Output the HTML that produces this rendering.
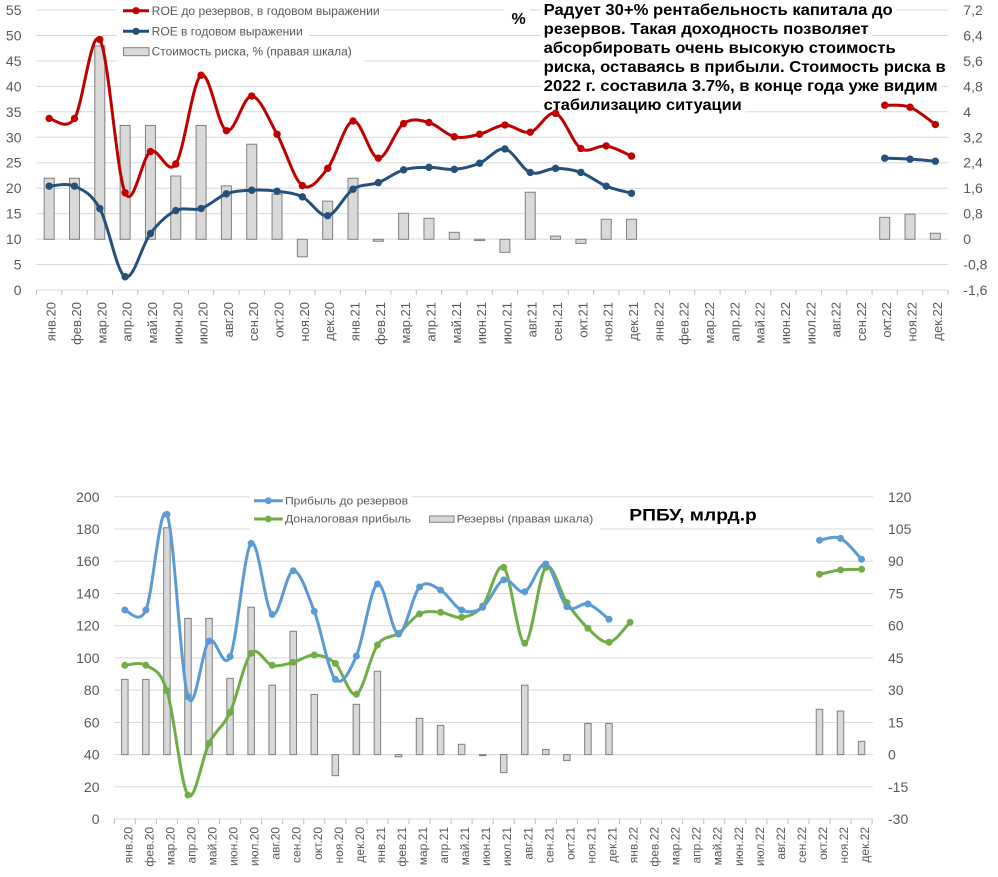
<!DOCTYPE html>
<html><head><meta charset="utf-8">
<style>
html,body{margin:0;padding:0;background:#fff;width:998px;height:877px;overflow:hidden}
svg{display:block;font-family:"Liberation Sans","DejaVu Sans",sans-serif}
.ax{font-size:14px;fill:#595959}
.xl{font-size:13px;fill:#595959}
.xb{font-size:12px;fill:#595959}
.lg{font-size:11.5px;fill:#595959}
.lb{font-size:11px;fill:#595959}
.an{font-size:15.5px;font-weight:bold;fill:#000}
</style></head><body>
<svg id="s" width="998" height="877" viewBox="0 0 998 877" xmlns="http://www.w3.org/2000/svg">
<rect x="0" y="0" width="998" height="877" fill="#fff"/>
<g stroke="#d9d9d9" stroke-width="1">
<line x1="36.5" x2="948" y1="10" y2="10"/>
<line x1="36.5" x2="948" y1="35.45" y2="35.45"/>
<line x1="36.5" x2="948" y1="60.9" y2="60.9"/>
<line x1="36.5" x2="948" y1="86.4" y2="86.4"/>
<line x1="36.5" x2="948" y1="111.8" y2="111.8"/>
<line x1="36.5" x2="948" y1="137.3" y2="137.3"/>
<line x1="36.5" x2="948" y1="162.7" y2="162.7"/>
<line x1="36.5" x2="948" y1="188.2" y2="188.2"/>
<line x1="36.5" x2="948" y1="213.6" y2="213.6"/>
<line x1="36.5" x2="948" y1="239.1" y2="239.1"/>
<line x1="36.5" x2="948" y1="264.5" y2="264.5"/>
<line x1="36.5" x2="948" y1="290" y2="290"/>
<line x1="114.3" x2="873" y1="496.8" y2="496.8"/>
<line x1="114.3" x2="873" y1="529" y2="529"/>
<line x1="114.3" x2="873" y1="561.2" y2="561.2"/>
<line x1="114.3" x2="873" y1="593.5" y2="593.5"/>
<line x1="114.3" x2="873" y1="625.7" y2="625.7"/>
<line x1="114.3" x2="873" y1="657.9" y2="657.9"/>
<line x1="114.3" x2="873" y1="690.1" y2="690.1"/>
<line x1="114.3" x2="873" y1="722.5" y2="722.5"/>
<line x1="114.3" x2="873" y1="754.6" y2="754.6"/>
<line x1="114.3" x2="873" y1="786.8" y2="786.8"/>
<line x1="114.3" x2="873" y1="819" y2="819"/>
</g>
<g id="ticks" stroke="#bfbfbf" stroke-width="1"></g>
<g id="bars" fill="#d9d9d9" stroke="#7f7f7f" stroke-width="1"></g>

<!-- legend / annotation backgrounds -->
<g fill="#fff">
<rect x="117" y="1" width="266" height="19"/>
<rect x="117" y="22" width="192" height="20"/>
<rect x="117" y="43" width="247" height="21"/>
<rect x="250" y="489" width="162" height="20"/>
<rect x="250" y="511" width="350" height="21"/>
<rect x="504" y="6" width="26" height="22"/>
<rect x="541" y="1" width="355" height="19"/>
<rect x="541" y="20" width="331" height="19"/>
<rect x="541" y="39" width="358" height="19"/>
<rect x="541" y="58" width="408" height="19"/>
<rect x="541" y="77" width="400" height="19"/>
<rect x="541" y="96" width="204" height="19"/>
</g>

<g id="lines" fill="none" stroke-linecap="round" stroke-linejoin="round"></g>
<g id="marks"></g>

<!-- legend top -->
<line x1="123" x2="149" y1="10.7" y2="10.7" stroke="#C00000" stroke-width="3"/>
<circle cx="136" cy="10.7" r="3.6" fill="#C00000"/>
<line x1="123" x2="149" y1="31.3" y2="31.3" stroke="#24507a" stroke-width="3"/>
<circle cx="136" cy="31.3" r="3.6" fill="#24507a"/>
<rect x="123.5" y="47.7" width="25.5" height="8" fill="#d9d9d9" stroke="#7f7f7f" stroke-width="1"/>
<text class="lg" x="151.7" y="15" textLength="228" lengthAdjust="spacingAndGlyphs">ROE до резервов, в годовом выражении</text>
<text class="lg" x="151.7" y="35.7" textLength="151" lengthAdjust="spacingAndGlyphs">ROE в годовом выражении</text>
<text class="lg" x="151.7" y="55.7" textLength="200" lengthAdjust="spacingAndGlyphs">Стоимость риска, % (правая шкала)</text>

<!-- legend bottom -->
<line x1="254" x2="282.7" y1="500.7" y2="500.7" stroke="#5B9BD5" stroke-width="3"/>
<circle cx="268.3" cy="500.7" r="3.4" fill="#5B9BD5"/>
<line x1="254" x2="282.7" y1="519" y2="519" stroke="#70AD47" stroke-width="3"/>
<circle cx="268.3" cy="519" r="3.4" fill="#70AD47"/>
<rect x="429.5" y="516" width="24.5" height="6.3" fill="#d9d9d9" stroke="#7f7f7f" stroke-width="1"/>
<text class="lb" x="285" y="504.5" textLength="123" lengthAdjust="spacingAndGlyphs">Прибыль до резервов</text>
<text class="lb" x="285" y="522.7" textLength="126" lengthAdjust="spacingAndGlyphs">Доналоговая прибыль</text>
<text class="lb" x="456.7" y="522.7" textLength="136.6" lengthAdjust="spacingAndGlyphs">Резервы (правая шкала)</text>

<!-- annotation -->
<text x="511.5" y="24" style="font-size:16px;font-weight:bold;fill:#000">%</text>
<text class="an" x="543.7" y="15" textLength="349" lengthAdjust="spacingAndGlyphs">Радует 30+% рентабельность капитала до</text>
<text class="an" x="543.7" y="34" textLength="325" lengthAdjust="spacingAndGlyphs">резервов. Такая доходность позволяет</text>
<text class="an" x="543.7" y="53" textLength="352" lengthAdjust="spacingAndGlyphs">абсорбировать очень высокую стоимость</text>
<text class="an" x="543.7" y="72" textLength="402" lengthAdjust="spacingAndGlyphs">риска, оставаясь в прибыли. Стоимость риска в</text>
<text class="an" x="543.7" y="91" textLength="394" lengthAdjust="spacingAndGlyphs">2022 г. составила 3.7%, в конце года уже видим</text>
<text class="an" x="543.7" y="110" textLength="198" lengthAdjust="spacingAndGlyphs">стабилизацию ситуации</text>

<text x="629.3" y="520.7" textLength="127.5" lengthAdjust="spacingAndGlyphs" style="font-size:16.5px;font-weight:bold;fill:#000">РПБУ, млрд.р</text>

<!-- top left axis -->
<g class="ax" text-anchor="end">
<text x="21.5" y="15">55</text><text x="21.5" y="40.5">50</text><text x="21.5" y="65.9">45</text>
<text x="21.5" y="91.4">40</text><text x="21.5" y="116.8">35</text><text x="21.5" y="142.3">30</text>
<text x="21.5" y="167.7">25</text><text x="21.5" y="193.2">20</text><text x="21.5" y="218.6">15</text>
<text x="21.5" y="244.1">10</text><text x="21.5" y="269.5">5</text><text x="21.5" y="295">0</text>
</g>
<g class="ax">
<text x="963.3" y="15">7,2</text><text x="963.3" y="40.5">6,4</text><text x="963.3" y="65.9">5,6</text>
<text x="963.3" y="91.4">4,8</text><text x="963.3" y="116.8">4</text><text x="963.3" y="142.3">3,2</text>
<text x="963.3" y="167.7">2,4</text><text x="963.3" y="193.2">1,6</text><text x="963.3" y="218.6">0,8</text>
<text x="963.3" y="244.1">0</text><text x="963.3" y="269.5">-0,8</text><text x="963.3" y="295">-1,6</text>
</g>
<!-- bottom axes -->
<g class="ax" text-anchor="end">
<text x="99.5" y="501.8">200</text><text x="99.5" y="534">180</text><text x="99.5" y="566.2">160</text>
<text x="99.5" y="598.5">140</text><text x="99.5" y="630.7">120</text><text x="99.5" y="662.9">100</text>
<text x="99.5" y="695.1">80</text><text x="99.5" y="727.5">60</text><text x="99.5" y="759.6">40</text>
<text x="99.5" y="791.8">20</text><text x="99.5" y="824">0</text>
</g>
<g class="ax">
<text x="888" y="501.8">120</text><text x="888" y="534">105</text><text x="888" y="566.2">90</text>
<text x="888" y="598.5">75</text><text x="888" y="630.7">60</text><text x="888" y="662.9">45</text>
<text x="888" y="695.1">30</text><text x="888" y="727.5">15</text><text x="888" y="759.6">0</text>
<text x="888" y="791.8">-15</text><text x="888" y="824">-30</text>
</g>

<!-- top x labels -->
<g class="xl" text-anchor="end">
<text transform="translate(55.7,302) rotate(-90)">янв.20</text>
<text transform="translate(81,302) rotate(-90)">фев.20</text>
<text transform="translate(106.3,302) rotate(-90)">мар.20</text>
<text transform="translate(131.6,302) rotate(-90)">апр.20</text>
<text transform="translate(156.9,302) rotate(-90)">май.20</text>
<text transform="translate(182.3,302) rotate(-90)">июн.20</text>
<text transform="translate(207.6,302) rotate(-90)">июл.20</text>
<text transform="translate(232.9,302) rotate(-90)">авг.20</text>
<text transform="translate(258.2,302) rotate(-90)">сен.20</text>
<text transform="translate(283.5,302) rotate(-90)">окт.20</text>
<text transform="translate(308.9,302) rotate(-90)">ноя.20</text>
<text transform="translate(334.2,302) rotate(-90)">дек.20</text>
<text transform="translate(359.5,302) rotate(-90)">янв.21</text>
<text transform="translate(384.8,302) rotate(-90)">фев.21</text>
<text transform="translate(410.1,302) rotate(-90)">мар.21</text>
<text transform="translate(435.5,302) rotate(-90)">апр.21</text>
<text transform="translate(460.8,302) rotate(-90)">май.21</text>
<text transform="translate(486.1,302) rotate(-90)">июн.21</text>
<text transform="translate(511.4,302) rotate(-90)">июл.21</text>
<text transform="translate(536.7,302) rotate(-90)">авг.21</text>
<text transform="translate(562.1,302) rotate(-90)">сен.21</text>
<text transform="translate(587.4,302) rotate(-90)">окт.21</text>
<text transform="translate(612.7,302) rotate(-90)">ноя.21</text>
<text transform="translate(638,302) rotate(-90)">дек.21</text>
<text transform="translate(663.3,302) rotate(-90)">янв.22</text>
<text transform="translate(688.7,302) rotate(-90)">фев.22</text>
<text transform="translate(714,302) rotate(-90)">мар.22</text>
<text transform="translate(739.3,302) rotate(-90)">апр.22</text>
<text transform="translate(764.6,302) rotate(-90)">май.22</text>
<text transform="translate(789.9,302) rotate(-90)">июн.22</text>
<text transform="translate(815.3,302) rotate(-90)">июл.22</text>
<text transform="translate(840.6,302) rotate(-90)">авг.22</text>
<text transform="translate(865.9,302) rotate(-90)">сен.22</text>
<text transform="translate(891.2,302) rotate(-90)">окт.22</text>
<text transform="translate(916.5,302) rotate(-90)">ноя.22</text>
<text transform="translate(941.9,302) rotate(-90)">дек.22</text>
</g>
<!-- bottom x labels -->
<g class="xb" text-anchor="end">
<text transform="translate(132.3,827) rotate(-90)">янв.20</text>
<text transform="translate(153.4,827) rotate(-90)">фев.20</text>
<text transform="translate(174.4,827) rotate(-90)">мар.20</text>
<text transform="translate(195.5,827) rotate(-90)">апр.20</text>
<text transform="translate(216.5,827) rotate(-90)">май.20</text>
<text transform="translate(237.6,827) rotate(-90)">июн.20</text>
<text transform="translate(258.6,827) rotate(-90)">июл.20</text>
<text transform="translate(279.7,827) rotate(-90)">авг.20</text>
<text transform="translate(300.7,827) rotate(-90)">сен.20</text>
<text transform="translate(321.8,827) rotate(-90)">окт.20</text>
<text transform="translate(342.8,827) rotate(-90)">ноя.20</text>
<text transform="translate(363.9,827) rotate(-90)">дек.20</text>
<text transform="translate(384.9,827) rotate(-90)">янв.21</text>
<text transform="translate(406,827) rotate(-90)">фев.21</text>
<text transform="translate(427,827) rotate(-90)">мар.21</text>
<text transform="translate(448.1,827) rotate(-90)">апр.21</text>
<text transform="translate(469.1,827) rotate(-90)">май.21</text>
<text transform="translate(490.2,827) rotate(-90)">июн.21</text>
<text transform="translate(511.2,827) rotate(-90)">июл.21</text>
<text transform="translate(532.3,827) rotate(-90)">авг.21</text>
<text transform="translate(553.3,827) rotate(-90)">сен.21</text>
<text transform="translate(574.4,827) rotate(-90)">окт.21</text>
<text transform="translate(595.4,827) rotate(-90)">ноя.21</text>
<text transform="translate(616.5,827) rotate(-90)">дек.21</text>
<text transform="translate(637.5,827) rotate(-90)">янв.22</text>
<text transform="translate(658.6,827) rotate(-90)">фев.22</text>
<text transform="translate(679.6,827) rotate(-90)">мар.22</text>
<text transform="translate(700.7,827) rotate(-90)">апр.22</text>
<text transform="translate(721.7,827) rotate(-90)">май.22</text>
<text transform="translate(742.8,827) rotate(-90)">июн.22</text>
<text transform="translate(763.8,827) rotate(-90)">июл.22</text>
<text transform="translate(784.9,827) rotate(-90)">авг.22</text>
<text transform="translate(805.9,827) rotate(-90)">сен.22</text>
<text transform="translate(827,827) rotate(-90)">окт.22</text>
<text transform="translate(848,827) rotate(-90)">ноя.22</text>
<text transform="translate(869.1,827) rotate(-90)">дек.22</text>
</g>
</svg>
<script>
(function(){
var NS="http://www.w3.org/2000/svg";
function el(p,t,a){var e=document.createElementNS(NS,t);for(var k in a)e.setAttribute(k,a[k]);p.appendChild(e);return e;}
var N=null;
var n9=[N,N,N,N,N,N,N,N,N];
var redT=[33.7,33.7,49.2,19.1,27.2,24.75,42.2,31.3,38.1,30.6,20.5,23.9,33.2,25.9,32.7,32.9,30.1,30.6,32.4,31.0,34.7,27.8,28.3,26.3].concat(n9,[36.3,35.9,32.5]);
var bluT=[20.4,20.4,16.0,2.6,11.1,15.6,16.0,18.9,19.6,19.4,18.3,14.6,19.8,21.1,23.6,24.1,23.7,24.9,27.7,23.1,23.9,23.1,20.4,19.0].concat(n9,[25.9,25.7,25.3]);
var barT=[1.92,1.92,6.08,3.58,3.58,1.99,3.58,1.68,2.99,1.42,-0.55,1.2,1.92,-0.06,0.82,0.66,0.22,-0.04,-0.41,1.48,0.1,-0.13,0.63,0.63].concat(n9,[0.69,0.79,0.19]);
var bluB=[129.7,129.7,189.1,75.9,110.5,100.8,171.1,127,154.1,128.9,86.7,101.2,145.9,114.8,144,142.1,129.7,131.4,148.4,141.1,158.3,131.8,133.5,124].concat(n9,[173,174.2,161.2]);
var grnB=[95.4,95.4,79.7,14.9,47,66.2,102.9,95.4,97.3,101.8,96.6,77.4,108,115.3,127.3,128.3,125.2,132.2,156.2,109.1,156.2,134.3,118.4,109.7,122.1,N,N,N,N,N,N,N,N,151.9,154.6,155];
var barB=[35,35,105.6,63.4,63.4,35.5,68.6,32.3,57.4,28,-9.8,23.4,38.8,-1,16.9,13.6,4.8,-0.5,-8.4,32.3,2.4,-2.8,14.5,14.5].concat(n9,[21.1,20.3,6.2]);
function X(i){return 36.5+(i+0.5)*25.32;}
function Y(v){return 290-v*5.091;}
function Yr(v){return 239.3-v*31.8;}
function BX(i){return 114.3+(i+0.5)*21.05;}
function BY(v){return 819-v*1.611;}
function BYr(v){return 754.6-v*2.148;}
var ticks=document.getElementById('ticks');
el(ticks,'line',{x1:36.5,x2:948,y1:290,y2:290,stroke:'#d9d9d9'});
el(ticks,'line',{x1:114.3,x2:873,y1:819,y2:819,stroke:'#d9d9d9'});
for(var i=0;i<=36;i++){
 var x=36.5+i*25.32;el(ticks,'line',{x1:x,x2:x,y1:290,y2:295});
 var bx=114.3+i*21.05;el(ticks,'line',{x1:bx,x2:bx,y1:819,y2:824});
}
var bars=document.getElementById('bars');
function drawBars(vals,XF,YF,w){
 vals.forEach(function(v,i){if(v==null)return;var y0=YF(0),y1=YF(v);var t=Math.min(y0,y1),h=Math.abs(y1-y0);if(h<1)h=1;
  el(bars,'rect',{x:(XF(i)-w/2).toFixed(2),y:t.toFixed(2),width:w,height:h.toFixed(2)});});
}
drawBars(barT,X,Yr,10);
drawBars(barB,BX,BYr,6.5);
function segs(vals,XF,YF){var out=[],cur=[];vals.forEach(function(v,i){if(v==null){if(cur.length)out.push(cur);cur=[];}else cur.push([XF(i),YF(v)]);});if(cur.length)out.push(cur);return out;}
function f(n){return n.toFixed(2);}
function path(p){var d='M'+f(p[0][0])+','+f(p[0][1]);for(var i=0;i<p.length-1;i++){var p0=p[i-1]||p[i],p1=p[i],p2=p[i+1],p3=p[i+2]||p[i+1],t=6;
 d+=' C'+f(p1[0]+(p2[0]-p0[0])/t)+','+f(p1[1]+(p2[1]-p0[1])/t)+' '+f(p2[0]-(p3[0]-p1[0])/t)+','+f(p2[1]-(p3[1]-p1[1])/t)+' '+f(p2[0])+','+f(p2[1]);}return d;}
var lines=document.getElementById('lines'),marks=document.getElementById('marks');
function series(vals,XF,YF,col,w,r){
 segs(vals,XF,YF).forEach(function(s){if(s.length>1)el(lines,'path',{d:path(s),stroke:col,'stroke-width':w});
  s.forEach(function(p){el(marks,'circle',{cx:f(p[0]),cy:f(p[1]),r:r,fill:col});});});
}
series(bluT,X,Y,'#24507a',3,3.7);
series(redT,X,Y,'#C00000',3,3.7);
series(grnB,BX,BY,'#70AD47',3,3.5);
series(bluB,BX,BY,'#5B9BD5',3,3.5);
})();
</script>
</body></html>
